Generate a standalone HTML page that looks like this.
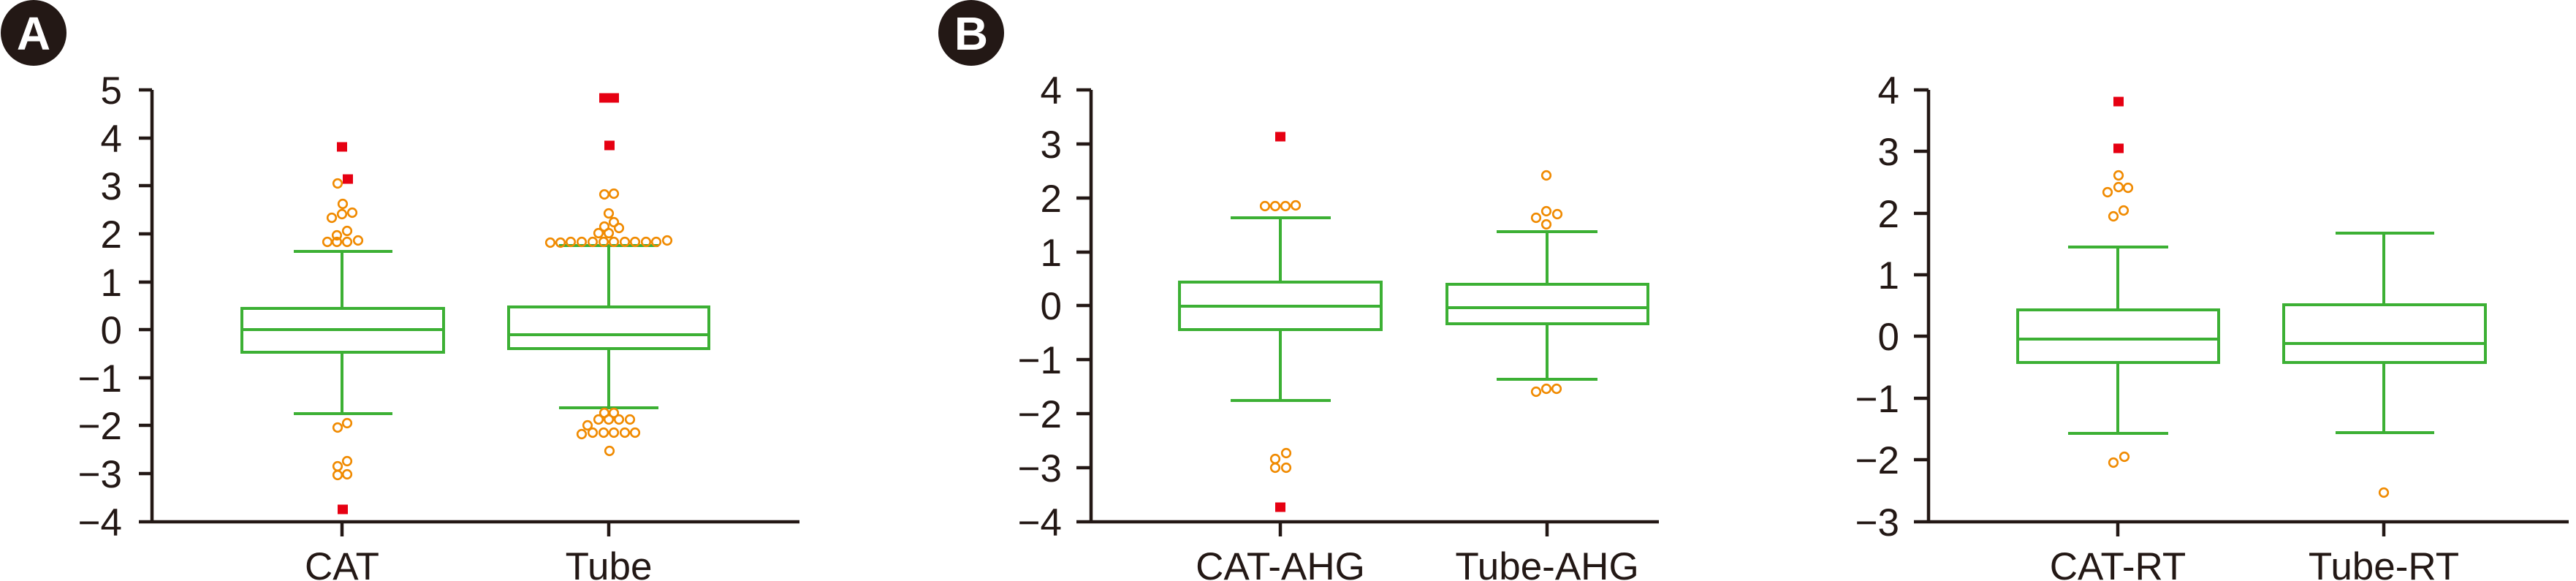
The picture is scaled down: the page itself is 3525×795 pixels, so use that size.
<!DOCTYPE html>
<html><head><meta charset="utf-8"><style>html,body{margin:0;padding:0;background:#fff}svg{display:block}</style></head><body>
<svg width="3525" height="795" viewBox="0 0 3525 795" xmlns="http://www.w3.org/2000/svg" font-family="Liberation Sans, sans-serif">
<defs>
<g id="c"><circle r="5.8" fill="none" stroke="#f08a00" stroke-width="2.6"/></g>
<g id="r"><rect x="-7" y="-6.5" width="14" height="13" fill="#e60012"/></g>
</defs>
<!-- labels A,B -->
<ellipse cx="46" cy="45" rx="45" ry="45" fill="#231815"/>
<text x="46" y="68" font-size="64" font-weight="bold" fill="#fff" text-anchor="middle">A</text>
<ellipse cx="1329" cy="45" rx="45" ry="45" fill="#231815"/>
<text x="1329" y="68" font-size="64" font-weight="bold" fill="#fff" text-anchor="middle">B</text>

<g stroke="#231815" stroke-width="4.5" fill="none">
<!-- Panel A axes -->
<path d="M208 123V714M190 714H1094"/>
<path d="M190 123H208M190 189H208M190 254H208M190 320H208M190 386H208M190 451H208M190 517H208M190 582H208M190 648H208"/>
<path d="M468 714V734M833 714V734"/>
<!-- Panel B axes -->
<path d="M1493 123V714M1473 714H2270"/>
<path d="M1473 123H1493M1473 197H1493M1473 271H1493M1473 345H1493M1473 418H1493M1473 492H1493M1473 566H1493M1473 640H1493"/>
<path d="M1752 714V734M2117 714V734"/>
<!-- Panel C axes -->
<path d="M2639 123V714M2619 714H3515"/>
<path d="M2619 123H2639M2619 207H2639M2619 292H2639M2619 376H2639M2619 460H2639M2619 545H2639M2619 629H2639"/>
<path d="M2898 714V734M3262 714V734"/>
</g>

<g font-size="53" fill="#231815" text-anchor="end">
<text x="167" y="142">5</text><text x="167" y="208">4</text><text x="167" y="273">3</text><text x="167" y="339">2</text><text x="167" y="405">1</text><text x="167" y="470">0</text><text x="167" y="536">−1</text><text x="167" y="601">−2</text><text x="167" y="667">−3</text><text x="167" y="733">−4</text>
<text x="1453" y="142">4</text><text x="1453" y="216">3</text><text x="1453" y="290">2</text><text x="1453" y="364">1</text><text x="1453" y="437">0</text><text x="1453" y="511">−1</text><text x="1453" y="585">−2</text><text x="1453" y="659">−3</text><text x="1453" y="733">−4</text>
<text x="2599" y="142">4</text><text x="2599" y="226">3</text><text x="2599" y="311">2</text><text x="2599" y="395">1</text><text x="2599" y="479">0</text><text x="2599" y="564">−1</text><text x="2599" y="648">−2</text><text x="2599" y="733">−3</text>
</g>
<g font-size="53" fill="#231815" text-anchor="middle">
<text x="468" y="793">CAT</text><text x="833" y="793">Tube</text>
<text x="1752" y="793">CAT-AHG</text><text x="2117" y="793">Tube-AHG</text>
<text x="2898" y="793">CAT-RT</text><text x="3262" y="793">Tube-RT</text>
</g>

<g stroke="#3cb034" stroke-width="4" fill="none">
<!-- A CAT -->
<rect x="331" y="422" width="276" height="60"/><path d="M331 451H607M468 422V344M468 482V566M402 344H537M402 566H537"/>
<!-- A Tube -->
<rect x="696" y="420" width="274" height="57"/><path d="M696 458H970M833 420V336M833 477V558M765 336H901M765 558H901"/>
<!-- B CAT-AHG -->
<rect x="1614" y="386" width="276" height="65"/><path d="M1614 419H1890M1752 386V298M1752 451V548M1684 298H1821M1684 548H1821"/>
<!-- B Tube-AHG -->
<rect x="1980" y="389" width="275" height="54"/><path d="M1980 421H2255M2117 389V317M2117 443V519M2048 317H2186M2048 519H2186"/>
<!-- C CAT-RT -->
<rect x="2761" y="424" width="275" height="72"/><path d="M2761 464H3036M2898 424V338M2898 496V593M2830 338H2967M2830 593H2967"/>
<!-- C Tube-RT -->
<rect x="3125" y="417" width="276" height="79"/><path d="M3125 470H3401M3262 417V319M3262 496V592M3196 319H3331M3196 592H3331"/>
</g>

<!-- outliers A CAT -->
<use href="#r" x="468" y="201"/><use href="#r" x="476" y="245"/><use href="#r" x="469" y="697"/>
<use href="#c" x="462" y="251"/><use href="#c" x="469" y="279"/><use href="#c" x="468" y="293"/><use href="#c" x="482" y="291"/><use href="#c" x="454" y="298"/><use href="#c" x="461" y="322"/><use href="#c" x="475" y="316"/><use href="#c" x="448" y="331"/><use href="#c" x="461" y="331"/><use href="#c" x="475" y="331"/><use href="#c" x="490" y="329"/>
<use href="#c" x="462" y="585"/><use href="#c" x="475" y="579"/><use href="#c" x="462" y="638"/><use href="#c" x="475" y="631"/><use href="#c" x="462" y="650"/><use href="#c" x="475" y="649"/>
<!-- A Tube -->
<use href="#r" x="827" y="134"/><use href="#r" x="840" y="134"/><use href="#r" x="834" y="199"/>
<use href="#c" x="827" y="266"/><use href="#c" x="840" y="265"/><use href="#c" x="833" y="292"/><use href="#c" x="840" y="304"/><use href="#c" x="827" y="310"/><use href="#c" x="847" y="312"/><use href="#c" x="819" y="319"/><use href="#c" x="833" y="319"/>
<use href="#c" x="753" y="332"/><use href="#c" x="767" y="332"/><use href="#c" x="781" y="331"/><use href="#c" x="796" y="331"/><use href="#c" x="811" y="331"/><use href="#c" x="826" y="331"/><use href="#c" x="840" y="331"/><use href="#c" x="855" y="331"/><use href="#c" x="869" y="331"/><use href="#c" x="884" y="331"/><use href="#c" x="898" y="331"/><use href="#c" x="913" y="329"/>
<use href="#c" x="827" y="565"/><use href="#c" x="840" y="565"/><use href="#c" x="819" y="574"/><use href="#c" x="833" y="574"/><use href="#c" x="847" y="574"/><use href="#c" x="862" y="574"/><use href="#c" x="804" y="582"/>
<use href="#c" x="796" y="594"/><use href="#c" x="811" y="592"/><use href="#c" x="826" y="592"/><use href="#c" x="840" y="592"/><use href="#c" x="855" y="592"/><use href="#c" x="869" y="592"/><use href="#c" x="834" y="617"/>
<!-- B -->
<use href="#r" x="1752" y="187"/><use href="#r" x="1752" y="694"/>
<use href="#c" x="1731" y="282"/><use href="#c" x="1745" y="282"/><use href="#c" x="1759" y="282"/><use href="#c" x="1773" y="281"/>
<use href="#c" x="1760" y="620"/><use href="#c" x="1745" y="628"/><use href="#c" x="1745" y="640"/><use href="#c" x="1760" y="640"/>
<use href="#c" x="2116" y="240"/><use href="#c" x="2116" y="289"/><use href="#c" x="2102" y="298"/><use href="#c" x="2131" y="293"/><use href="#c" x="2116" y="307"/>
<use href="#c" x="2102" y="536"/><use href="#c" x="2116" y="532"/><use href="#c" x="2130" y="532"/>
<!-- C -->
<use href="#r" x="2899" y="139"/><use href="#r" x="2899" y="203"/>
<use href="#c" x="2899" y="240"/><use href="#c" x="2899" y="256"/><use href="#c" x="2912" y="257"/><use href="#c" x="2884" y="263"/><use href="#c" x="2906" y="288"/><use href="#c" x="2892" y="296"/>
<use href="#c" x="2907" y="625"/><use href="#c" x="2892" y="633"/><use href="#c" x="3262" y="674"/>
</svg>
</body></html>
